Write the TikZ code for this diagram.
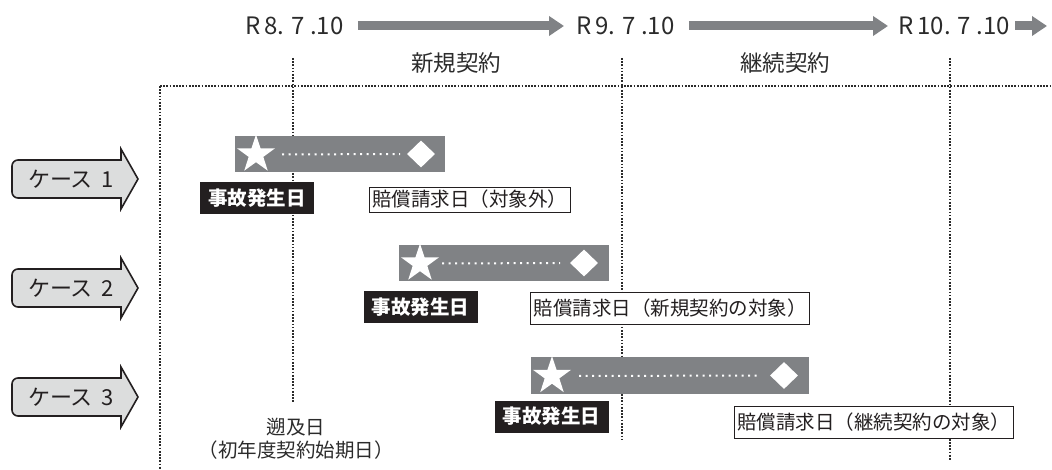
\documentclass[tikz,border=0pt]{standalone}
\usepackage{fontspec}
\setmainfont{Noto Sans CJK JP}
\usetikzlibrary{shapes.geometric,arrows.meta}
\definecolor{bargray}{HTML}{808285}
\definecolor{casegray}{HTML}{DCDDDD}
\definecolor{ink}{HTML}{231F20}
\definecolor{txt}{HTML}{2B2B2B}
\begin{document}
\begin{tikzpicture}[x=1pt,y=-1pt,
 datelbl/.style={inner sep=0pt, font=\fontsize{24}{24}\selectfont, text=txt},
 hdrarrow/.style={bargray, line width=9pt, -{Triangle[length=15pt,width=19pt]}},
 termlbl/.style={inner sep=0pt, font=\fontsize{22.5}{24}\selectfont, text=txt},
 vdot/.style={txt, line width=1.3pt, dash pattern=on 1.7pt off 1.5pt},
 casetxt/.style={inner sep=0pt, font=\fontsize{22}{22}\selectfont, text=ink},
 caseshape/.style={draw=ink, line width=1.6pt, fill=casegray},
 barbox/.style={fill=bargray, inner sep=0pt, minimum height=36pt},
 starmk/.style={star, star points=5, star point ratio=2.6, fill=white, inner sep=0pt, minimum size=40pt},
 diamk/.style={diamond, fill=white, inner sep=0pt, minimum width=28pt, minimum height=27pt},
 wdots/.style={white, line width=2pt, dash pattern=on 2pt off 4.5pt},
 accbox/.style={fill=ink, text=white, font=\fontsize{19.5}{20}\selectfont\bfseries, inner sep=0pt, minimum width=114pt, minimum height=32pt},
 claimbox/.style={draw=ink, line width=0.9pt, fill=white, font=\fontsize{19.5}{20}\selectfont, inner xsep=3pt, inner ysep=0pt, text=ink},
 notelbl/.style={inner sep=0pt, align=center, font=\fontsize{19.5}{23}\selectfont, text=txt},
 ]
\useasboundingbox (0,0) rectangle (1052,470);

% header dates and arrows
\node[datelbl, anchor=west] (d1) at (245,26) {R\,8. 7 .10};
\node[datelbl, anchor=west] (d2) at (576,26) {R\,9. 7 .10};
\node[datelbl, anchor=west] (d3) at (898,26) {R\,10. 7 .10};
\coordinate (dend) at (1047,26);
\draw[hdrarrow, shorten <=14pt, shorten >=12pt] (d1.east) -- (d2.west);
\draw[hdrarrow, shorten <=14pt, shorten >=10pt] (d2.east) -- (d3.west);
\draw[hdrarrow, shorten <=5pt] (d3.east) -- (dend);

% term labels
\node[termlbl] (t1) at (456,63) {新規契約};
\node[termlbl] (t2) at (785,63) {継続契約};

% dotted grid
\draw[vdot] (160,86) -- (1052,86);
\draw[vdot] (160,86) -- (160,470);
\draw[vdot] (293,58) -- (293,403);
\draw[vdot] (622,58) -- (622,440);
\draw[vdot] (950,58) -- (950,461);

% case arrows
\foreach \yc/\nm/\lb in {179/k1/1, 288/k2/2, 397/k3/3}{
  \begin{scope}[shift={(0,\yc)}]
    \draw[caseshape] (66,-19) [rounded corners=6pt] -- (12,-19) -- (12,19) -- (66,19)
      [sharp corners] -- (121,19) -- (121,30) -- (138,0) -- (121,-30) -- (121,-19) -- cycle;
    \node[casetxt] (\nm) at (71,0) {ケース\hspace{0.4em}\lb};
  \end{scope}
}

% case 1
\node[barbox, minimum width=210pt] (b1) at (340,154) {};
\node[starmk] (s1) at (256,154.5) {};
\node[diamk] (m1) at (421,154) {};
\draw[wdots, shorten <=26pt, shorten >=21pt] (s1.center) -- (m1.center);
\node[accbox] (a1) at (257,198) {事故発生日};
\node[claimbox, minimum height=25pt] (c1) at (469.5,199.5) {賠償請求日（対象外）};

% case 2
\node[barbox, minimum width=210pt] (b2) at (504,263) {};
\node[starmk] (s2) at (420,263.5) {};
\node[diamk] (m2) at (584,263) {};
\draw[wdots, shorten <=22pt, shorten >=24pt] (s2.center) -- (m2.center);
\node[accbox] (a2) at (420.5,307) {事故発生日};
\node[claimbox, minimum height=32pt] (c2) at (670,308) {賠償請求日（新規契約の対象）};

% case 3
\node[barbox, minimum width=278pt, minimum height=37pt] (b3) at (670,375.5) {};
\node[starmk] (s3) at (552,376) {};
\node[diamk] (m3) at (784,375.5) {};
\draw[wdots, shorten <=27pt, shorten >=27pt] (s3.center) -- (m3.center);
\node[accbox] (a3) at (551.5,416.5) {事故発生日};
\node[claimbox, minimum height=32pt] (c3) at (873.5,422) {賠償請求日（継続契約の対象）};

% retroactive date
\node[notelbl] (r1) at (296,438.5) {遡及日\\（初年度契約始期日）};
\end{tikzpicture}
\end{document}
